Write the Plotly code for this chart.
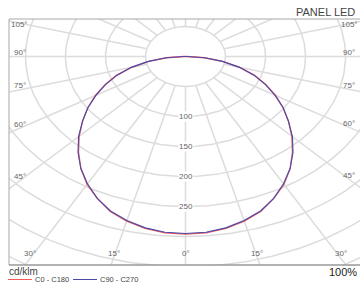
import numpy as np
import plotly.graph_objects as go

# ---- data (cd/klm) ----
gamma = [0, 5, 10, 15, 20, 25, 30, 35, 40, 45, 50, 55, 60, 65, 70, 75, 80, 85, 90]
c0_c180 = [296, 295, 291, 284, 275, 261, 246, 228, 208, 188, 168, 149, 130, 111, 92, 70, 47, 24, 2]
c90_c270 = [295, 294, 290, 283, 274, 261, 245, 228, 209, 189, 168, 149, 129, 110, 91, 70, 47, 24, 2]
radial_ticks = [100, 150, 200, 250]
angle_labels = [0, 15, 30, 45, 60, 75, 90, 105]
title_text = "PANEL LED"
unit_text = "cd/klm"
series_names = ["C0 - C180", "C90 - C270"]

W, H = 360, 284
ML, MR, MT, MB = 9, 0, 19, 19
XR = [-220.6, 218.1]
YR = [-347.5, 62.5]

GRID = "#dcdcdc"
RED = "#f05a5a"
BLUE = "#4a4aaa"

fig = go.Figure()

# grid circles
t = np.linspace(0, 2 * np.pi, 361)
for r in range(50, 551, 50):
    fig.add_trace(go.Scatter(x=r * np.sin(t), y=r * np.cos(t), mode="lines",
                             line=dict(color=GRID, width=1.5), hoverinfo="skip", showlegend=False))
# spokes every 15 deg, starting at the 50 circle
for a in range(0, 360, 15):
    ar = np.radians(a)
    fig.add_trace(go.Scatter(x=[50 * np.sin(ar), 600 * np.sin(ar)], y=[-50 * np.cos(ar), -600 * np.cos(ar)],
                             mode="lines", line=dict(color=GRID, width=1.5), hoverinfo="skip", showlegend=False))


def curve(vals):
    g = np.radians(np.array(gamma, dtype=float))
    v = np.array(vals, dtype=float)
    xl = -(v * np.sin(g))[::-1]
    yl = -(v * np.cos(g))[::-1]
    xr = v * np.sin(g)
    yr = -v * np.cos(g)
    xs = np.concatenate([xl, xr[1:], xl[:1]])
    ys = np.concatenate([yl, yr[1:], yl[:1]])
    return xs, ys


x1, y1 = curve(c0_c180)
x2, y2 = curve(c90_c270)
fig.add_trace(go.Scatter(x=x1, y=y1, mode="lines", line=dict(color=RED, width=1.3),
                         name=series_names[0], showlegend=False))
fig.add_trace(go.Scatter(x=x2, y=y2, mode="lines", line=dict(color=BLUE, width=1.1),
                         name=series_names[1], showlegend=False))

ann = []
# radial labels
for r in radial_ticks:
    ann.append(dict(x=0, y=-r, xref="x", yref="y", text=str(r), showarrow=False,
                    font=dict(size=8, color="#666", family="Liberation Sans, Arial"),
                    bgcolor="white", borderpad=0))

# angle labels placed where spokes meet an inset rectangle
uL, uR, vB, vT = -206.9, 204.4, -335.8, 47.5
for a in angle_labels:
    ar = np.radians(a)
    sides = [1] if a == 0 else [-1, 1]
    for s in sides:
        dx, dy = s * np.sin(ar), -np.cos(ar)
        ts = []
        if abs(dx) > 1e-9:
            ts.append((uR if dx > 0 else uL) / dx)
        if dy < -1e-9:
            ts.append(vB / dy)
        tt = min(ts)
        px, py = tt * dx, min(tt * dy, vT)
        ann.append(dict(x=px, y=py, xref="x", yref="y", text=f"{a}°", showarrow=False,
                        yshift=4, font=dict(size=8, color="#666", family="Liberation Sans, Arial")))

pw = W - ML - MR
ph = H - MT - MB


def px2paper(px, py):
    return (px - ML) / pw, (H - MB - py) / ph


# title
tx, ty = px2paper(357, 12)
ann.append(dict(x=tx, y=ty, xref="paper", yref="paper", text=title_text, showarrow=False,
                xanchor="right", yanchor="middle",
                font=dict(size=11, color="#444", family="Liberation Sans, Arial")))
# 100%
tx, ty = px2paper(359, 272)
ann.append(dict(x=tx, y=ty, xref="paper", yref="paper", text="100%", showarrow=False,
                xanchor="right", yanchor="middle",
                font=dict(size=11, color="#222", family="Liberation Sans, Arial")))
# unit
tx, ty = px2paper(7, 271.5)
ann.append(dict(x=tx, y=ty, xref="paper", yref="paper", text=unit_text, showarrow=False,
                xanchor="left", yanchor="middle",
                font=dict(size=10, color="#444", family="Liberation Sans, Arial")))
# legend texts
for (lx, col, name) in [(8, RED, series_names[0]), (73, BLUE, series_names[1])]:
    tx, ty = px2paper(lx + 25, 279)
    ann.append(dict(x=tx, y=ty, xref="paper", yref="paper", text=name, showarrow=False,
                    xanchor="left", yanchor="middle",
                    font=dict(size=7.5, color="#444", family="Liberation Sans, Arial")))

shapes = []
for (lx, col) in [(8, RED), (73, BLUE)]:
    x0, y0 = px2paper(lx, 279.5)
    x1p, _ = px2paper(lx + 24, 279.5)
    shapes.append(dict(type="line", xref="paper", yref="paper", x0=x0, x1=x1p, y0=y0, y1=y0,
                       line=dict(color=col, width=1)))
# frame
shapes.append(dict(type="line", xref="paper", yref="paper", x0=0, x1=1.02, y0=1, y1=1,
                   line=dict(color="#a8a8a8", width=1)))
shapes.append(dict(type="line", xref="paper", yref="paper", x0=0, x1=0, y0=0, y1=1,
                   line=dict(color="#a8a8a8", width=1)))
shapes.append(dict(type="line", xref="paper", yref="paper", x0=0, x1=1.02, y0=0, y1=0,
                   line=dict(color="#999", width=1.5)))

fig.update_layout(
    width=W, height=H,
    margin=dict(l=ML, r=MR, t=MT, b=MB),
    paper_bgcolor="white", plot_bgcolor="white",
    xaxis=dict(range=XR, showgrid=False, zeroline=False, showticklabels=False, ticks="", fixedrange=True),
    yaxis=dict(range=YR, showgrid=False, zeroline=False, showticklabels=False, ticks="", fixedrange=True),
    annotations=ann, shapes=shapes, showlegend=False,
)

fig.write_html("out.html", config={"displayModeBar": False},
               post_script="document.body.style.margin='0';document.body.style.overflow='hidden';")
